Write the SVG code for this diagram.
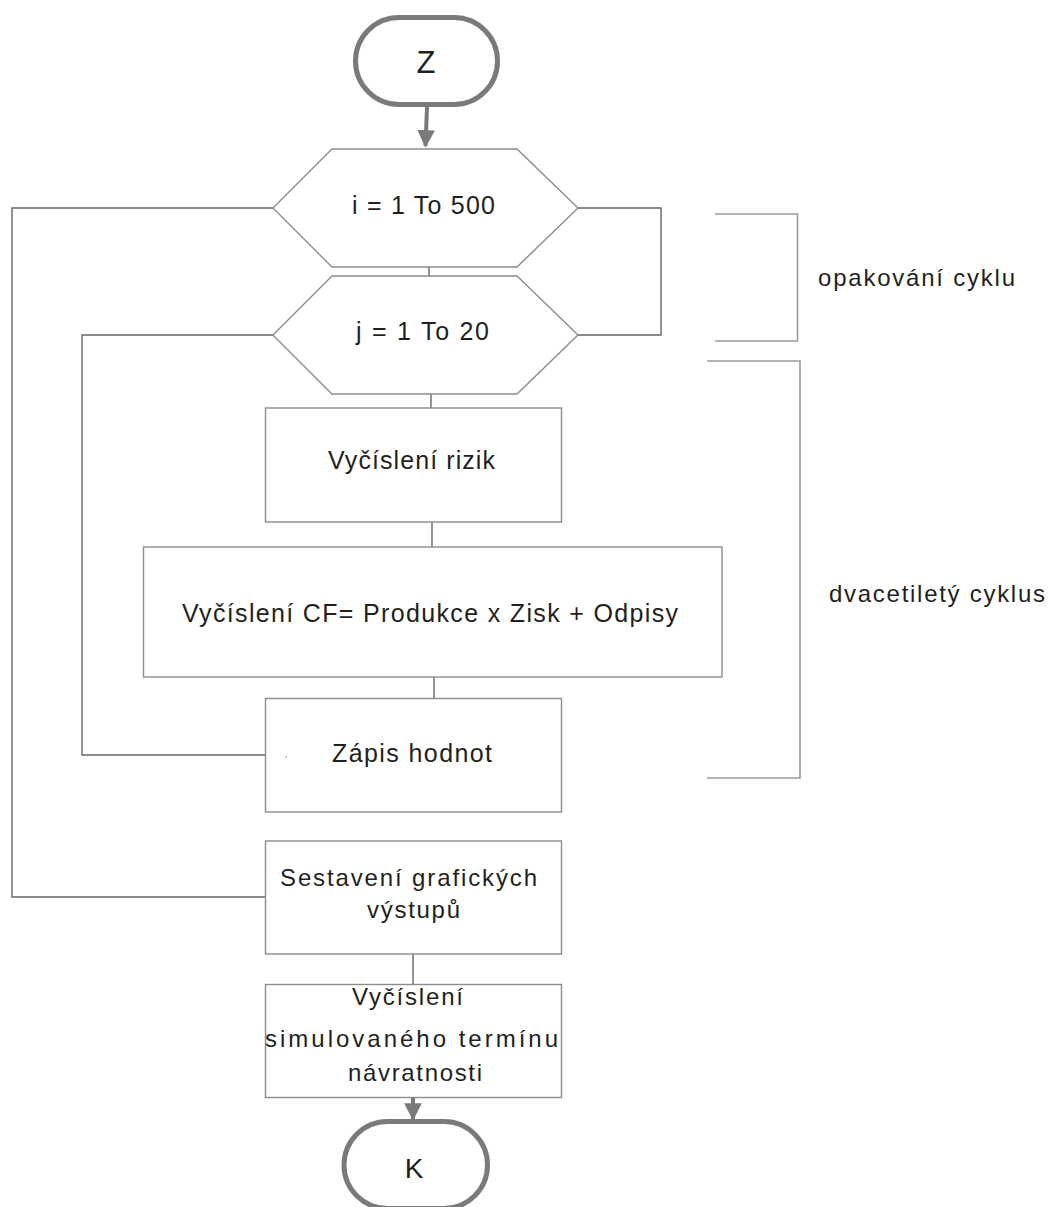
<svg xmlns="http://www.w3.org/2000/svg" width="1048" height="1207" viewBox="0 0 1048 1207">
  <style>
    .lbl { font-family: "Liberation Sans", Arial, sans-serif; fill: #231f20; }
    .box { fill: #ffffff; stroke: #8c8c8c; stroke-width: 1.4; }
    .term { fill: #ffffff; stroke: #7a7a7a; stroke-width: 5; }
    .wire { fill: none; stroke: #666666; stroke-width: 1.4; }
    .brace { fill: none; stroke: #9a9a9a; stroke-width: 1.6; }
    .flow { fill: none; stroke: #7a7a7a; stroke-width: 4; }
  </style>
  <defs>
    <marker id="head" viewBox="0 0 10 10" refX="9" refY="5" markerWidth="4.4" markerHeight="4.4" markerUnits="strokeWidth" orient="auto">
      <path d="M0,0 L10,5 L0,10 Z" fill="#7a7a7a"/>
    </marker>
  </defs>
  <rect width="1048" height="1207" fill="#ffffff"/>

  <!-- connectors -->
  <g id="connectors">
    <line class="flow" x1="427" y1="107" x2="425.5" y2="146" marker-end="url(#head)"/>
    <line class="wire" x1="429" y1="267" x2="429" y2="276"/>
    <line class="wire" x1="431" y1="394" x2="431" y2="408"/>
    <line class="wire" x1="432" y1="522" x2="432" y2="547"/>
    <line class="wire" x1="434" y1="677" x2="434" y2="698"/>
    <line class="wire" x1="413" y1="954" x2="413" y2="984"/>
    <line class="flow" x1="413" y1="1098" x2="413" y2="1119" marker-end="url(#head)"/>
    <!-- outer loop i -->
    <polyline class="wire" points="273,208 12,208 12,897 265,897"/>
    <!-- inner loop j -->
    <polyline class="wire" points="273,335 82,335 82,755 265,755"/>
    <!-- right return -->
    <polyline class="wire" points="578,208 661,208 661,335 578,335"/>
  </g>

  <!-- brackets -->
  <g id="bracket-opakovani">
    <polyline class="brace" points="715,214 797.5,214 797.5,341 715,341"/>
    <text class="lbl" x="818" y="286" font-size="24" textLength="197" lengthAdjust="spacing">opakování cyklu</text>
  </g>
  <g id="bracket-dvacetilety">
    <polyline class="brace" points="707,361 800,361 800,778 707,778"/>
    <text class="lbl" x="829" y="602" font-size="24" textLength="216" lengthAdjust="spacing">dvacetiletý cyklus</text>
  </g>

  <g id="start">
    <rect class="term" x="355.5" y="17.5" width="142" height="87" rx="43.5"/>
    <text class="lbl" x="426" y="73" font-size="31" text-anchor="middle">Z</text>
  </g>

  <g id="loop-i">
    <polygon class="box" points="332,149 517,149 578,208 517,267 332,267 273,208"/>
    <text class="lbl" x="352" y="214" font-size="25" textLength="143" lengthAdjust="spacing">i = 1 To 500</text>
  </g>

  <g id="loop-j">
    <polygon class="box" points="332,276 517,276 578,335 517,394 332,394 273,335"/>
    <text class="lbl" x="356" y="340" font-size="25" textLength="133" lengthAdjust="spacing">j = 1 To 20</text>
  </g>

  <g id="rizika">
    <rect class="box" x="265.5" y="408" width="296" height="114"/>
    <text class="lbl" x="328" y="469" font-size="25" textLength="167" lengthAdjust="spacing">Vyčíslení rizik</text>
  </g>

  <g id="cashflow">
    <rect class="box" x="143.5" y="547" width="578.5" height="130"/>
    <text class="lbl" x="182" y="622" font-size="25" textLength="496" lengthAdjust="spacing">Vyčíslení CF= Produkce x Zisk + Odpisy</text>
  </g>

  <g id="zapis">
    <rect class="box" x="265.5" y="698.5" width="296" height="113.5"/>
    <rect x="285.5" y="756.5" width="1.5" height="1" fill="#777777"/>
    <text class="lbl" x="332" y="762" font-size="25" textLength="160" lengthAdjust="spacing">Zápis hodnot</text>
  </g>

  <g id="grafy">
    <rect class="box" x="265.5" y="841" width="296" height="113"/>
    <text class="lbl" x="280" y="886" font-size="24" textLength="257" lengthAdjust="spacing">Sestavení grafických</text>
    <text class="lbl" x="367" y="918" font-size="24" textLength="93" lengthAdjust="spacing">výstupů</text>
  </g>

  <g id="navratnost">
    <rect class="box" x="265.5" y="984.5" width="296" height="113"/>
    <text class="lbl" x="352" y="1005" font-size="24" textLength="111" lengthAdjust="spacing">Vyčíslení</text>
    <text class="lbl" x="265" y="1047" font-size="24" textLength="293" lengthAdjust="spacing">simulovaného termínu</text>
    <text class="lbl" x="348" y="1081" font-size="24" textLength="134" lengthAdjust="spacing">návratnosti</text>
  </g>

  <g id="end">
    <rect class="term" x="344" y="1121.5" width="143.5" height="87" rx="43.5"/>
    <text class="lbl" x="414" y="1178" font-size="28" text-anchor="middle">K</text>
  </g>
</svg>
